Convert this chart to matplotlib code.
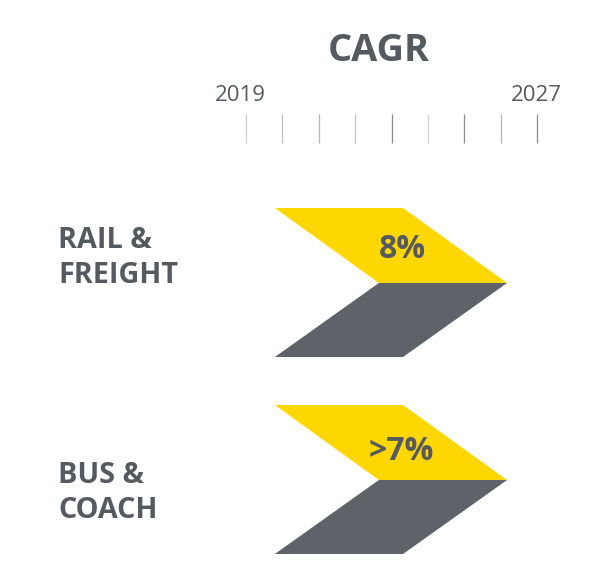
import matplotlib
matplotlib.use("Agg")
import matplotlib.pyplot as plt
from matplotlib.patches import Polygon

plt.rcParams['font.family'] = ['Open Sans', 'DejaVu Sans']

W, H = 610, 573
GREY = '#5e6369'
YELLOW = '#ffd700'
TEXT = '#555a60'

title = 'CAGR'
tick_years = [2019, 2020, 2021, 2022, 2023, 2024, 2025, 2026, 2027]
tick_shades = ['#cfcfcf', '#bdbdbd', '#b5b5b5', '#c4c4c4', '#8a8a8a', '#d0d0d0', '#8f8f8f', '#b5b5b5', '#8a8a8a']
labelled_years = [2019, 2027]
segments = ['RAIL &\nFREIGHT', 'BUS &\nCOACH']
growth_labels = ['8%', '>7%']
chevron_start = [2019.8, 2019.8]
chevron_end = [2026.17, 2026.17]
chevron_top = [208, 405]
chevron_mid = [283, 480]
chevron_bottom = [357, 554]
label_y = [258, 493]
growth_y = [250, 451.5]
growth_year = [2023.31, 2023.28]

px_per_year = (537.3 - 245.7) / 8
x_at = lambda px: 2019 + (px - 245.7) / px_per_year

fig = plt.figure(figsize=(W / 100, H / 100), dpi=100, facecolor='white')
ax = fig.add_axes([0, 0, 1, 1])
ax.set_xlim(x_at(0), x_at(W))
ax.set_ylim(H, 0)
ax.axis('off')

ax.text(x_at(379), 51, title, ha='center', va='center', fontsize=27.3, fontweight='bold', color=TEXT)
for yr in labelled_years:
    ax.text(yr - 0.14 if yr == 2019 else yr - 0.03, 95.5, str(yr), ha='center', va='center', fontsize=16, color=TEXT)
for yr, c in zip(tick_years, tick_shades):
    ax.plot([yr, yr], [114, 143], color=c, lw=0.9, solid_capstyle='butt')

for i in range(len(segments)):
    a, b = chevron_start[i], chevron_end[i]
    t, m, bt = chevron_top[i], chevron_mid[i], chevron_bottom[i]
    depth = 104 / px_per_year
    ax.add_patch(Polygon([(a, t), (b - depth, t), (b, m), (a + depth, m)], closed=True, fc=YELLOW, ec='none'))
    ax.add_patch(Polygon([(a + depth, m), (b, m), (b - depth, bt), (a, bt)], closed=True, fc=GREY, ec='none'))
    ax.text(growth_year[i], growth_y[i], growth_labels[i], ha='center', va='center', fontsize=23, fontweight='bold', color=TEXT)
    ax.text(x_at(58), label_y[i], segments[i], ha='left', va='center', fontsize=20.7, fontweight='bold', color=TEXT, linespacing=1.27)

fig.savefig('out.png', dpi=100, facecolor='white')
